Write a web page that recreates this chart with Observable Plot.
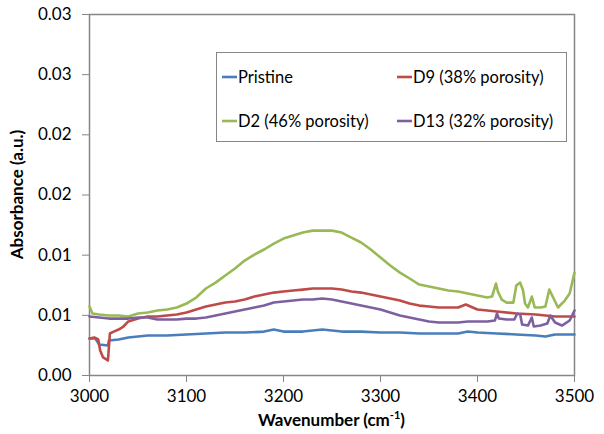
<!DOCTYPE html>
<html><head><meta charset="utf-8">
<script src="https://cdn.jsdelivr.net/npm/d3@7"></script>
<script src="https://cdn.jsdelivr.net/npm/@observablehq/plot@0.6"></script>
<style>
body{margin:0;background:#fff;}
#chart{position:relative;width:604px;height:434px;}
</style>
</head><body><div id="chart"></div>
<script>
const seriesNames = ["Pristine","D9 (38% porosity)","D2 (46% porosity)","D13 (32% porosity)"];
const seriesColors = ["#4a7ebb","#be4b48","#98b954","#7d60a0"];

const pristineX = [3000,3006,3008,3010,3019,3020,3030,3040,3050,3060,3080,3100,3120,3140,3160,3180,3190,3200,3220,3240,3260,3280,3300,3320,3340,3360,3380,3390,3400,3420,3440,3460,3470,3480,3500];
const pristineY = [0.00307,0.00307,0.00282,0.00257,0.00249,0.00291,0.00299,0.00316,0.00324,0.00332,0.00332,0.00341,0.00349,0.00357,0.00357,0.00365,0.00382,0.00365,0.00365,0.00382,0.00365,0.00365,0.00357,0.00357,0.00349,0.00349,0.00349,0.00365,0.00357,0.00349,0.00341,0.00332,0.00324,0.00341,0.00341];

const d9X = [3000,3005,3009,3011,3014,3019,3020,3021,3025,3030,3035,3040,3050,3060,3070,3080,3090,3100,3110,3120,3130,3140,3150,3160,3170,3180,3190,3200,3210,3220,3230,3240,3250,3260,3270,3280,3290,3300,3310,3320,3330,3340,3350,3360,3370,3380,3388,3395,3400,3420,3440,3460,3480,3490,3500];
const d9Y = [0.00307,0.00316,0.00299,0.00208,0.00150,0.00125,0.00233,0.00349,0.00365,0.00382,0.00407,0.00449,0.00473,0.00490,0.00490,0.00498,0.00507,0.00523,0.00548,0.00573,0.00590,0.00606,0.00615,0.00631,0.00656,0.00673,0.00689,0.00698,0.00706,0.00714,0.00723,0.00723,0.00723,0.00714,0.00698,0.00689,0.00673,0.00656,0.00640,0.00623,0.00598,0.00581,0.00573,0.00565,0.00565,0.00565,0.00590,0.00565,0.00548,0.00532,0.00515,0.00507,0.00490,0.00490,0.00490];

const d2X = [3000,3003,3010,3020,3030,3040,3050,3060,3070,3080,3090,3100,3110,3120,3130,3140,3150,3160,3170,3180,3190,3200,3210,3220,3230,3240,3250,3260,3270,3280,3290,3300,3310,3320,3330,3340,3350,3360,3370,3380,3390,3400,3410,3415,3419,3421,3425,3430,3437,3440,3444,3447,3449,3452,3456,3459,3465,3470,3474,3478,3483,3490,3495,3500];
const d2Y = [0.00573,0.00515,0.00507,0.00498,0.00498,0.00490,0.00515,0.00523,0.00540,0.00548,0.00565,0.00598,0.00648,0.00723,0.00772,0.00831,0.00889,0.00955,0.01005,0.01047,0.01096,0.01138,0.01163,0.01188,0.01204,0.01204,0.01204,0.01188,0.01146,0.01105,0.01047,0.00980,0.00914,0.00855,0.00806,0.00756,0.00739,0.00723,0.00706,0.00698,0.00681,0.00664,0.00648,0.00656,0.00764,0.00698,0.00631,0.00606,0.00606,0.00748,0.00772,0.00706,0.00598,0.00565,0.00656,0.00565,0.00565,0.00573,0.00714,0.00648,0.00565,0.00623,0.00681,0.00855];

const d13X = [3000,3010,3020,3030,3040,3050,3060,3070,3080,3090,3100,3110,3120,3130,3140,3150,3160,3170,3180,3190,3200,3210,3220,3230,3240,3250,3260,3270,3280,3290,3300,3310,3320,3330,3340,3350,3360,3370,3380,3390,3400,3410,3418,3420,3422,3430,3438,3441,3444,3446,3452,3456,3458,3465,3472,3475,3480,3487,3495,3500];
const d13Y = [0.00490,0.00482,0.00473,0.00473,0.00473,0.00482,0.00482,0.00465,0.00465,0.00465,0.00473,0.00473,0.00482,0.00498,0.00515,0.00532,0.00548,0.00565,0.00581,0.00606,0.00615,0.00623,0.00631,0.00631,0.00640,0.00631,0.00615,0.00598,0.00581,0.00565,0.00548,0.00523,0.00498,0.00482,0.00465,0.00449,0.00440,0.00440,0.00440,0.00449,0.00449,0.00449,0.00457,0.00515,0.00473,0.00465,0.00465,0.00515,0.00506,0.00424,0.00415,0.00482,0.00407,0.00415,0.00432,0.00498,0.00440,0.00415,0.00457,0.00540];

const xTicks = [3000,3100,3200,3300,3400,3500];
const yTicks = [0,0.005,0.01,0.015,0.02,0.025,0.03];
const yTickLabels = ["0.00","0.01","0.01","0.02","0.02","0.03","0.03"];

const xs = [pristineX,d9X,d2X,d13X];
const ys = [pristineY,d9Y,d2Y,d13Y];
const rows = [];
seriesNames.forEach((s,i)=>{ xs[i].forEach((x,j)=>rows.push({series:s, order:j, wn:x, abs:ys[i][j]})); });

const axisGray = "#868686";
const plot = Plot.plot({
  width:604, height:434,
  marginLeft:89, marginRight:30, marginTop:14, marginBottom:59,
  style:{fontFamily:"Lato, 'Open Sans', sans-serif", fontSize:"17px", color:"#000", background:"#fff"},
  x:{domain:[3000,3500], ticks:xTicks, tickFormat:d=>String(d), label:null, tickSize:7},
  y:{domain:[0,0.03], ticks:yTicks, tickFormat:(d,i)=>yTickLabels[i], label:null, tickSize:7},
  color:{domain:seriesNames, range:seriesColors},
  marks:[
    Plot.frame({stroke:axisGray, strokeWidth:1.5}),
    Plot.axisX({ticks:xTicks, tickFormat:d=>String(d), tickSize:7, stroke:axisGray, fill:"#000", tickPadding:7, fontSize:17, label:null}),
    Plot.axisY({ticks:yTicks, tickFormat:(d,i)=>yTickLabels[i], tickSize:7, stroke:axisGray, fill:"#000", tickPadding:11, fontSize:17, label:null}),
    Plot.line(rows, {x:"wn", y:"abs", z:"series", stroke:"series", strokeWidth:2.6, sort:null, curve:"linear"})
  ]
});
document.getElementById("chart").appendChild(plot);

const svg = d3.select(plot);
// axis titles
const xt = svg.append("text").attr("x",331.5).attr("y",426).attr("text-anchor","middle")
  .attr("font-family","Lato, sans-serif").attr("font-weight","bold").attr("font-size",17).attr("fill","#000");
xt.append("tspan").text("Wavenumber (cm");
xt.append("tspan").attr("font-size",11).attr("dy",-7).text("-1");
xt.append("tspan").attr("dy",7).attr("font-size",17).text(")");
svg.append("text").attr("transform","translate(23,194.5) rotate(-90)").attr("text-anchor","middle")
  .attr("font-family","Lato, sans-serif").attr("font-weight","bold").attr("font-size",17).attr("fill","#000")
  .text("Absorbance (a.u.)");

// legend
const lg = svg.append("g").attr("text-anchor","start");
lg.append("rect").attr("x",216.5).attr("y",52.5).attr("width",350).attr("height",89)
  .attr("fill","#fff").attr("stroke",axisGray).attr("stroke-width",1);
const legPos = [[222,77],[397,77],[222,121],[397,121]];
seriesNames.forEach((s,i)=>{
  const [x,y]=legPos[i];
  lg.append("line").attr("x1",x).attr("x2",x+15).attr("y1",y).attr("y2",y)
    .attr("stroke",seriesColors[i]).attr("stroke-width",2.6);
  lg.append("text").attr("x",x+16).attr("y",y).attr("dy","0.35em").attr("text-anchor","start")
    .attr("font-family","Lato, sans-serif").attr("font-size",16.5).attr("fill","#000").text(s);
});
</script></body></html>
